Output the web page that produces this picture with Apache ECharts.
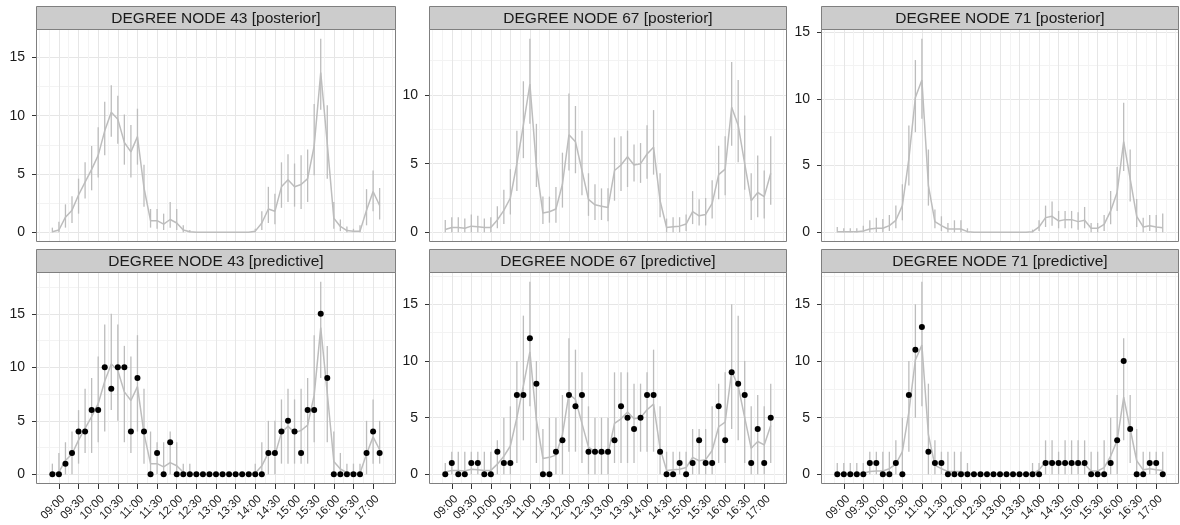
<!DOCTYPE html>
<html>
<head>
<meta charset="utf-8">
<script src="https://cdn.jsdelivr.net/npm/echarts@6/dist/echarts.min.js"></script>
<style>
  html, body { margin: 0; padding: 0; background: #ffffff; }
  #chart { width: 1180px; height: 525px; }
</style>
</head>
<body>
<div id="chart"></div>
<script>
// Observation times (10-minute slots)
const times = ["08:50","09:00","09:10","09:20","09:30","09:40","09:50","10:00","10:10","10:20",
  "10:30","10:40","10:50","11:00","11:10","11:20","11:30","11:40","11:50","12:00",
  "12:10","12:20","12:30","12:40","12:50","13:00","13:10","13:20","13:30","13:40",
  "13:50","14:00","14:10","14:20","14:30","14:40","14:50","15:00","15:10","15:20",
  "15:30","15:40","15:50","16:00","16:10","16:20","16:30","16:40","16:50","17:00","17:10"];

// Labelled time breaks on the x axis
const tickLabels = ["09:00","09:30","10:00","10:30","11:00","11:30","12:00","12:30","13:00",
  "13:30","14:00","14:30","15:00","15:30","16:00","16:30","17:00"];

// Degree breaks on the y axis
const yBreaks = [0, 5, 10, 15];
const yMinorBreaks = [2.5, 7.5, 12.5, 17.5];

// ---- Node 43 ----
const mean43 = [0.05,0.2,1.3,1.9,3.2,4.3,5.4,6.6,8.7,10.3,
  9.7,7.7,6.9,8.2,3.8,1.0,1.0,0.7,1.1,0.8,
  0.2,0.05,0,0,0,0,0,0,0,0,
  0,0.1,0.8,2.0,1.8,3.9,4.5,3.9,4.1,4.6,
  7.4,13.7,7.6,1.2,0.5,0.15,0.1,0.1,1.9,3.5,
  2.3];
const postLo43 = [0,0,0.4,0.8,1.6,2.9,3.6,4.7,6.6,8.2,
  7.6,5.8,4.7,5.8,2.2,0.4,0.3,0.2,0.4,0.2,
  0,0,0,0,0,0,0,0,0,0,
  0,0,0.2,0.8,0.7,2.1,2.6,2.2,2.0,2.6,
  4.9,10.5,4.6,0.3,0.1,0,0,0,0.6,1.8,
  1.1];
const postHi43 = [0.4,0.9,2.4,3.1,4.6,6.0,7.4,9.0,11.2,12.6,
  11.7,10.1,9.2,10.6,5.8,2.0,2.0,1.6,2.6,2.0,
  0.6,0.2,0,0,0,0,0,0,0,0,
  0,0.3,1.8,3.9,3.3,6.0,6.7,5.9,6.6,7.1,
  11.0,16.6,10.9,2.6,1.1,0.5,0.3,0.6,3.7,5.3,
  3.8];
const obs43 = [0,0,1,2,4,4,6,6,10,8,
  10,10,4,9,4,0,2,0,3,0,
  0,0,0,0,0,0,0,0,0,0,
  0,0,0,2,2,4,5,4,2,6,
  6,15,9,0,0,0,0,0,2,4,
  2];
const predLo43 = [0,0,0,0,1,2,2,3,4,6,
  5,3,2,4,1,0,0,0,0,0,
  0,0,0,0,0,0,0,0,0,0,
  0,0,0,0,0,1,1,1,1,1,
  3,9,3,0,0,0,0,0,0,1,
  1];
const predHi43 = [1,2,3,4,6,8,9,11,14,15,
  14,12,11,13,8,4,3,3,4,3,
  1,1,0,0,0,0,0,0,0,0,
  0,1,3,5,5,7,8,7,8,9,
  13,18,12,4,2,1,1,1,5,7,
  5];

// ---- Node 67 ----
const mean67 = [0.2,0.35,0.35,0.3,0.45,0.4,0.35,0.35,0.9,1.6,
  2.5,5.0,7.8,10.8,4.8,1.4,1.5,1.7,3.5,7.1,
  6.6,4.5,2.4,2.0,1.9,1.8,4.5,4.9,5.5,4.9,
  5.0,5.7,6.2,2.3,0.35,0.4,0.45,0.6,1.5,1.2,
  1.3,2.1,4.2,4.6,9.1,7.8,5.0,2.3,2.9,2.6,
  4.3];
const postLo67 = [0,0,0,0,0,0,0,0,0.3,0.6,
  1.3,3.0,5.4,7.9,3.3,0.6,0.7,0.7,1.8,4.5,
  4.3,2.7,1.2,0.9,0.9,0.8,2.3,3.0,3.3,3.7,
  3.6,3.9,4.2,1.1,0,0,0,0.1,0.6,0.5,
  0.5,1.0,2.4,2.7,6.3,5.1,3.1,0.9,1.1,1.0,
  2.0];
const postHi67 = [0.9,1.1,1.1,1.0,1.3,1.2,1.0,1.1,1.9,3.1,
  4.6,7.4,11.0,14.1,7.9,2.6,2.6,3.3,5.8,10.1,
  9.2,7.4,4.3,3.5,3.2,3.2,6.9,7.0,7.4,6.4,
  6.5,7.8,8.9,4.3,1.0,1.1,1.1,1.3,3.0,2.4,
  2.5,3.8,6.3,7.0,12.4,11.1,8.5,4.3,5.6,4.5,
  7.0];
const obs67 = [0,1,0,0,1,1,0,0,2,1,
  1,7,7,12,8,0,0,2,3,7,
  6,7,2,2,2,2,3,6,5,4,
  5,7,7,2,0,0,1,0,1,3,
  1,1,6,3,9,8,7,1,4,1,
  5];
const predLo67 = [0,0,0,0,0,0,0,0,0,0,
  0,1,3,6,1,0,0,0,0,2,
  2,1,0,0,0,0,1,1,1,1,
  2,2,2,0,0,0,0,0,0,0,
  0,0,1,1,4,3,1,0,0,0,
  1];
const predHi67 = [1,2,2,2,2,2,2,2,3,5,
  6,10,14,17,10,4,5,5,7,12,
  11,9,6,5,5,5,9,9,9,8,
  8,9,11,6,2,2,2,2,4,4,
  4,6,8,9,15,14,10,6,7,6,
  8];

// ---- Node 71 ----
const mean71 = [0.05,0.05,0.05,0.05,0.1,0.25,0.3,0.3,0.5,0.9,
  2.0,5.5,10.1,11.4,3.5,0.8,0.5,0.25,0.25,0.25,
  0.05,0,0,0,0,0,0,0,0,0,
  0.05,0.4,1.1,1.2,0.85,0.95,0.95,0.8,0.9,0.3,
  0.3,0.6,1.6,3.0,6.8,4.0,1.2,0.4,0.5,0.4,
  0.35];
const postLo71 = [0,0,0,0,0,0,0,0,0.1,0.3,
  0.9,3.5,7.5,8.5,2.0,0.3,0.1,0,0,0,
  0,0,0,0,0,0,0,0,0,0,
  0,0.1,0.4,0.5,0.3,0.3,0.3,0.2,0.3,0,
  0,0.1,0.6,1.6,4.6,2.3,0.4,0,0.1,0,
  0];
const postHi71 = [0.4,0.3,0.3,0.3,0.5,0.9,1.1,1.0,1.3,2.0,
  3.6,8.0,12.9,14.5,6.2,1.7,1.2,0.7,0.9,0.9,
  0.3,0,0,0,0,0,0,0,0,0,
  0.2,0.9,2.0,2.3,1.6,1.6,1.6,1.5,1.9,0.7,
  0.7,1.3,3.1,4.9,9.7,6.2,2.5,1.1,1.3,1.3,
  1.4];
const obs71 = [0,0,0,0,0,1,1,0,0,1,
  0,7,11,13,2,1,1,0,0,0,
  0,0,0,0,0,0,0,0,0,0,
  0,0,1,1,1,1,1,1,1,0,
  0,0,1,3,10,4,0,0,1,1,
  0];
const predLo71 = [0,0,0,0,0,0,0,0,0,0,
  0,2,5,6,0,0,0,0,0,0,
  0,0,0,0,0,0,0,0,0,0,
  0,0,0,0,0,0,0,0,0,0,
  0,0,0,0,3,1,0,0,0,0,
  0];
const predHi71 = [1,1,1,1,1,2,2,2,2,3,
  5,10,15,17,8,3,2,2,2,2,
  1,0,0,0,0,0,0,0,0,0,
  1,1,3,3,2,3,3,3,3,2,
  2,3,5,7,12,7,4,2,2,2,
  2];

// ---------------------------------------------------------------
const FONT = '"Liberation Sans", Arial, Helvetica, sans-serif';
const GREY_MARK = '#bdbdbd';
const BORDER = '#7f7f7f';

const toMin = s => { const p = s.split(':').map(Number); return p[0] * 60 + p[1]; };
const fmtTime = v => {
  const h = Math.floor(v / 60), m = Math.round(v - h * 60);
  return String(h).padStart(2, '0') + ':' + String(m).padStart(2, '0');
};

const xs = times.map(toMin);
const xSpan = xs[xs.length - 1] - xs[0];
const xMin = xs[0] - 0.05 * xSpan;
const xMax = xs[xs.length - 1] + 0.05 * xSpan;

const xMajor = tickLabels.map(toMin);
const xStep = xMajor[1] - xMajor[0];
const xExt = [xMajor[0] - xStep].concat(xMajor, [xMajor[xMajor.length - 1] + xStep]);
const xMinor = [];
for (let k = 0; k < xExt.length - 1; k++) {
  if (k === 0) xMinor.push(xExt[0]);
  xMinor.push((xExt[k] + xExt[k + 1]) / 2);
}
xMinor.push(xExt[xExt.length - 1]);
const xMinorIn = xMinor.filter(v => v > xMin && v < xMax && xMajor.indexOf(v) < 0);

// panel layout
const colLeft = [36, 429, 821];
const colWidth = [360, 358, 358];
const stripTop = [6, 249];
const plotTop = [29, 272];
const plotHeight = [213, 212];
const stripH = 23;

const panels = [
  { row: 0, col: 0, title: 'DEGREE NODE 43 [posterior]',  mean: mean43, lo: postLo43, hi: postHi43 },
  { row: 0, col: 1, title: 'DEGREE NODE 67 [posterior]',  mean: mean67, lo: postLo67, hi: postHi67 },
  { row: 0, col: 2, title: 'DEGREE NODE 71 [posterior]',  mean: mean71, lo: postLo71, hi: postHi71 },
  { row: 1, col: 0, title: 'DEGREE NODE 43 [predictive]', mean: mean43, lo: predLo43, hi: predHi43, obs: obs43 },
  { row: 1, col: 1, title: 'DEGREE NODE 67 [predictive]', mean: mean67, lo: predLo67, hi: predHi67, obs: obs67 },
  { row: 1, col: 2, title: 'DEGREE NODE 71 [predictive]', mean: mean71, lo: predLo71, hi: predHi71, obs: obs71 }
];

const grids = [], xAxes = [], yAxes = [], series = [], graphics = [];
const NP = panels.length;

panels.forEach((p, i) => {
  const left = colLeft[p.col], width = colWidth[p.col];
  const top = plotTop[p.row], height = plotHeight[p.row];
  grids.push({ left: left, top: top, width: width, height: height, show: false,
    containLabel: false, outerBoundsMode: 'none' });

  const vals = p.hi.concat(p.mean, p.obs || [], p.lo);
  const vMax = Math.max.apply(null, vals), vMin = Math.min.apply(null, vals);
  const yPad = 0.05 * (vMax - vMin);
  const yMin = vMin - yPad, yMax = vMax + yPad;
  const yMaj = yBreaks.filter(v => v >= yMin && v <= yMax);
  const yMin2 = yMinorBreaks.filter(v => v >= yMin && v <= yMax);
  const bottomRow = p.row === 1;

  // major x axis
  xAxes[i] = {
    type: 'value', gridIndex: i, min: xMin, max: xMax, position: 'bottom',
    axisLine: { show: false, onZero: false },
    axisTick: { show: bottomRow, customValues: xMajor, length: 5, inside: false,
      lineStyle: { color: '#333333', width: 1 } },
    axisLabel: { show: bottomRow, customValues: xMajor, rotate: 45, margin: 9,
      align: 'right', verticalAlign: 'top',
      fontSize: 11.5, fontFamily: FONT, color: '#1a1a1a', formatter: v => fmtTime(v),
      hideOverlap: false },
    splitLine: { show: true, lineStyle: { color: '#e6e6e6', width: 1 } }
  };
  // minor x grid
  xAxes[NP + i] = {
    type: 'value', gridIndex: i, min: xMin, max: xMax, position: 'bottom',
    axisLine: { show: false, onZero: false },
    axisTick: { show: false, customValues: xMinorIn },
    axisLabel: { show: false },
    splitLine: { show: true, lineStyle: { color: '#f3f3f3', width: 1 } }
  };
  // major y axis
  yAxes[i] = {
    type: 'value', gridIndex: i, min: yMin, max: yMax, position: 'left',
    axisLine: { show: false, onZero: false },
    axisTick: { show: true, customValues: yMaj, length: 4,
      lineStyle: { color: '#333333', width: 1 } },
    axisLabel: { show: true, customValues: yMaj, margin: 11, fontSize: 14,
      fontFamily: FONT, color: '#1a1a1a', formatter: v => String(Math.round(v)) },
    splitLine: { show: true, lineStyle: { color: '#e6e6e6', width: 1 } }
  };
  // minor y grid
  yAxes[NP + i] = {
    type: 'value', gridIndex: i, min: yMin, max: yMax, position: 'left',
    axisLine: { show: false, onZero: false },
    axisTick: { show: false, customValues: yMin2 },
    axisLabel: { show: false },
    splitLine: { show: true, lineStyle: { color: '#f3f3f3', width: 1 } }
  };

  // interval bars
  series.push({
    type: 'custom', xAxisIndex: i, yAxisIndex: i, z: 2, silent: true,
    data: xs.map((x, k) => [x, p.lo[k], p.hi[k]]),
    encode: { x: 0, y: [1, 2] },
    renderItem: (params, api) => {
      const a = api.coord([api.value(0), api.value(1)]);
      const b = api.coord([api.value(0), api.value(2)]);
      return { type: 'line', shape: { x1: a[0], y1: a[1], x2: b[0], y2: b[1] },
        style: { stroke: GREY_MARK, lineWidth: 1.3 } };
    }
  });
  // posterior mean line
  series.push({
    type: 'line', xAxisIndex: i, yAxisIndex: i, z: 3, silent: true,
    data: xs.map((x, k) => [x, p.mean[k]]),
    showSymbol: false, symbol: 'none',
    lineStyle: { color: GREY_MARK, width: 1.5 }
  });
  // observed counts
  if (p.obs) {
    series.push({
      type: 'scatter', xAxisIndex: i, yAxisIndex: i, z: 4, silent: true,
      data: xs.map((x, k) => [x, p.obs[k]]),
      symbol: 'circle', symbolSize: 6,
      itemStyle: { color: '#000000', borderWidth: 0, opacity: 1 }
    });
  }

  // panel border and facet strip
  graphics.push({
    type: 'rect', z: 100, silent: true,
    shape: { x: left + 0.5, y: top + 0.5, width: width - 1, height: height - 1 },
    style: { fill: null, stroke: BORDER, lineWidth: 1 }
  });
  graphics.push({
    type: 'rect', z: 100, silent: true,
    shape: { x: left + 0.5, y: stripTop[p.row] + 0.5, width: width - 1, height: stripH },
    style: { fill: '#cccccc', stroke: BORDER, lineWidth: 1 }
  });
  graphics.push({
    type: 'text', z: 101, silent: true,
    x: left + width / 2, y: stripTop[p.row] + stripH / 2 + 1,
    style: { text: p.title, fill: '#1a1a1a', fontSize: 15.5, fontFamily: FONT,
      align: 'center', verticalAlign: 'middle' }
  });
});

const chart = echarts.init(document.getElementById('chart'), null, { renderer: 'canvas' });
chart.setOption({
  backgroundColor: '#ffffff',
  animation: false,
  grid: grids,
  xAxis: xAxes,
  yAxis: yAxes,
  series: series,
  graphic: { elements: graphics }
});
</script>
</body>
</html>
